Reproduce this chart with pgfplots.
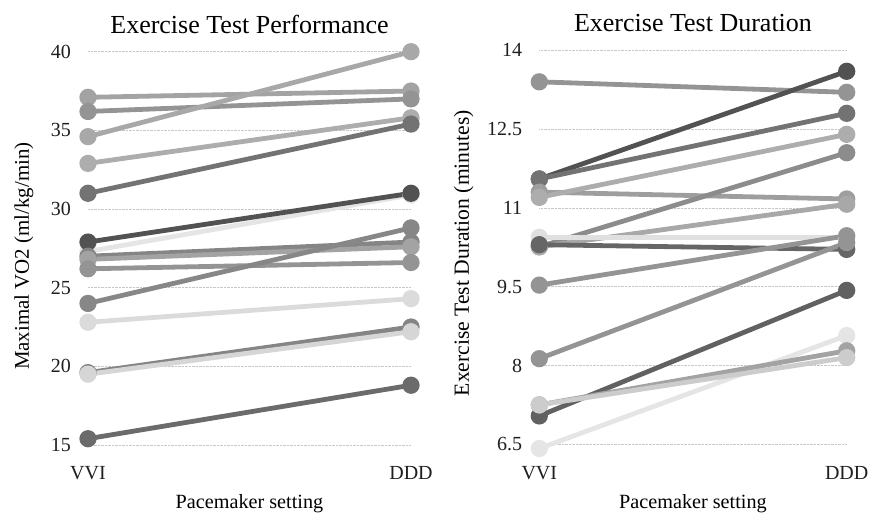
\documentclass[border=0pt]{standalone}
\usepackage{pgfplots}
\pgfplotsset{compat=1.18}
\usepackage{fontspec}
\setmainfont{Liberation Serif}
\pgfplotsset{
  pair/.style={line width=4.8pt, color=#1, mark=*, mark size=6.2pt, mark options={fill=#1, draw=#1}},
  common/.style={
    scale only axis, clip=false,
    xmin=0, xmax=1,
    axis line style={draw=none},
    major tick length=0pt,
    ymajorgrids, grid style={densely dotted, line width=0.6pt, black!22},
    xtick={0,1}, xticklabels={VVI,DDD},
    /pgf/number format/assume math mode=true,
    ticklabel style={font=\fontsize{20}{22}\selectfont, text=black!88},
    yticklabel style={anchor=east, inner sep=0pt, xshift=-17pt},
    xticklabel style={anchor=base, inner sep=0pt, yshift=-35pt},
    title style={font=\fontsize{26}{28}\selectfont, at={(axis description cs:0.5,1)}, anchor=base, inner sep=0pt, yshift=12.5pt},
    xlabel style={font=\fontsize{20.2}{22}\selectfont, at={(axis description cs:0.5,0)}, anchor=base, inner sep=0pt, yshift=-64pt},
    ylabel style={anchor=base, inner sep=0pt},
    xlabel={Pacemaker setting},
  }
}
\begin{document}
\begin{tikzpicture}
\path[use as bounding box] (0pt,0pt) rectangle (871pt,514pt);
\begin{axis}[common,
  at={(88pt,69pt)}, anchor=south west, width=323pt, height=393.3pt,
  ymin=15, ymax=40, ytick={15,20,25,30,35,40},
  title={Exercise Test Performance},
  ylabel={Maximal VO2 (ml/kg/min)},
  ylabel style={font=\fontsize{20.9}{24}\selectfont, at={(axis description cs:-0.183,0.48)}},
]
\addplot[pair=black!36] coordinates {(0,37.1) (1,37.5)};
\addplot[pair=black!42] coordinates {(0,36.2) (1,37.0)};
\addplot[pair=black!34] coordinates {(0,34.6) (1,40.0)};
\addplot[pair=black!32] coordinates {(0,32.9) (1,35.8)};
\addplot[pair=black!55] coordinates {(0,31.0) (1,35.4)};
\addplot[pair=black!10] coordinates {(0,27.3) (1,30.9)};
\addplot[pair=black!68] coordinates {(0,27.9) (1,31.0)};
\addplot[pair=black!48] coordinates {(0,27.0) (1,27.9)};
\addplot[pair=black!36] coordinates {(0,26.8) (1,27.6)};
\addplot[pair=black!42] coordinates {(0,26.2) (1,26.6)};
\addplot[pair=black!47] coordinates {(0,24.0) (1,28.8)};
\addplot[pair=black!14] coordinates {(0,22.8) (1,24.3)};
\addplot[pair=black!48] coordinates {(0,19.6) (1,22.5)};
\addplot[pair=black!16] coordinates {(0,19.5) (1,22.2)};
\addplot[pair=black!58] coordinates {(0,15.4) (1,18.8)};
\end{axis}
\begin{axis}[common,
  at={(539.3pt,69.7pt)}, anchor=south west, width=307.4pt, height=394pt,
  ymin=6.5, ymax=14, ytick={6.5,8,9.5,11,12.5,14},
  title={Exercise Test Duration},
  ylabel={Exercise Test Duration (minutes)},
  ylabel style={font=\fontsize{21.6}{24}\selectfont, at={(axis description cs:-0.229,0.485)}},
]
\addplot[pair=black!42] coordinates {(0,13.4) (1,13.2)};
\addplot[pair=black!68] coordinates {(0,11.55) (1,13.6)};
\addplot[pair=black!55] coordinates {(0,11.55) (1,12.8)};
\addplot[pair=black!38] coordinates {(0,11.3) (1,11.17)};
\addplot[pair=black!32] coordinates {(0,11.2) (1,12.4)};
\addplot[pair=black!45] coordinates {(0,10.26) (1,12.05)};
\addplot[pair=black!34] coordinates {(0,10.26) (1,11.07)};
\addplot[pair=black!12] coordinates {(0,10.44) (1,10.44)};
\addplot[pair=black!60] coordinates {(0,10.3) (1,10.21)};
\addplot[pair=black!42] coordinates {(0,9.53) (1,10.47)};
\addplot[pair=black!42] coordinates {(0,8.13) (1,10.34)};
\addplot[pair=black!62] coordinates {(0,7.04) (1,9.43)};
\addplot[pair=black!10] coordinates {(0,6.42) (1,8.57)};
\addplot[pair=black!36] coordinates {(0,7.25) (1,8.28)};
\addplot[pair=black!20] coordinates {(0,7.25) (1,8.15)};
\end{axis}
\end{tikzpicture}
\end{document}
